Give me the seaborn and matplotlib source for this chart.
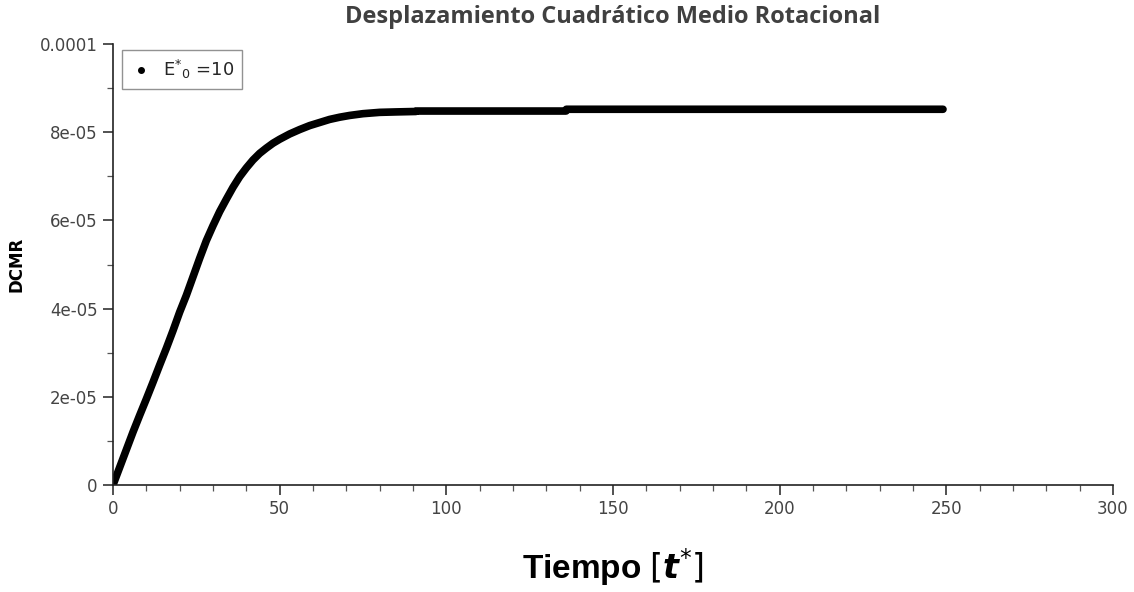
import matplotlib
matplotlib.use("Agg")
import matplotlib.pyplot as plt
from matplotlib.lines import Line2D
from matplotlib.ticker import MultipleLocator
import seaborn as sns
import pandas as pd

# Rotational mean square displacement vs reduced time
tiempo = [0, 2, 4, 6, 8, 10, 12, 14, 16, 18, 20, 22, 24, 26, 28, 30, 32, 34,
          36, 38, 40, 42, 44, 46, 48, 50, 53, 56, 59, 62, 65, 68, 71, 75, 80,
          85, 90.9, 91.0, 135.9, 136.0, 249]
dcmr = [0.0, 0.40e-5, 0.80e-5, 1.20e-5, 1.58e-5, 1.95e-5, 2.33e-5, 2.72e-5,
        3.10e-5, 3.50e-5, 3.92e-5, 4.30e-5, 4.72e-5, 5.14e-5, 5.54e-5,
        5.88e-5, 6.20e-5, 6.48e-5, 6.75e-5, 6.99e-5, 7.19e-5, 7.37e-5,
        7.52e-5, 7.64e-5, 7.75e-5, 7.84e-5, 7.96e-5, 8.06e-5, 8.15e-5,
        8.22e-5, 8.29e-5, 8.34e-5, 8.38e-5, 8.42e-5, 8.45e-5, 8.46e-5,
        8.47e-5, 8.48e-5, 8.48e-5, 8.52e-5, 8.52e-5]
serie = "E$^{*}$$_{0}$ =10"
x_ticks = [0, 50, 100, 150, 200, 250, 300]
y_ticks = [0, 2e-5, 4e-5, 6e-5, 8e-5, 1e-4]
y_labels = ["0", "2e-05", "4e-05", "6e-05", "8e-05", "0.0001"]

df = pd.DataFrame({"t": tiempo, "dcmr": dcmr})

sns.set_style("ticks")
plt.rcParams["font.family"] = ["DejaVu Sans"]

fig = plt.figure(figsize=(11.34, 5.92), dpi=100)
ax = fig.add_axes([113 / 1134, 1 - 485 / 592, 1000 / 1134, 441 / 592])

sns.lineplot(data=df, x="t", y="dcmr", ax=ax, color="black", lw=5.5,
             solid_capstyle="round", solid_joinstyle="round")

ax.set_xlim(0, 300)
ax.set_ylim(0, 1e-4)
ax.set_xticks(x_ticks)
ax.set_xticklabels([str(v) for v in x_ticks])
ax.set_yticks(y_ticks)
ax.set_yticklabels(y_labels)
ax.xaxis.set_minor_locator(MultipleLocator(10))
ax.yaxis.set_minor_locator(MultipleLocator(1e-5))

for side in ("top", "right"):
    ax.spines[side].set_visible(False)
for side in ("left", "bottom"):
    ax.spines[side].set_color("#222222")
    ax.spines[side].set_linewidth(1.2)

ax.tick_params(axis="both", which="major", length=7, width=1.1,
               color="#222222", labelsize=12, labelcolor="#444444", pad=4)
ax.tick_params(axis="both", which="minor", length=4, width=0.9,
               color="#555555")

ax.set_title("Desplazamiento Cuadrático Medio Rotacional",
             fontfamily="Open Sans", fontweight="bold", fontsize=17,
             color="#404040", pad=15)
ax.set_ylabel("DCMR", fontweight="bold", fontsize=12, color="black",
              labelpad=10)
ax.set_xlabel(r"Tiempo $\left[\boldsymbol{t}^{*}\right]$",
              fontfamily="Liberation Sans", fontweight="bold", fontsize=24,
              color="black", labelpad=20)

handle = Line2D([], [], color="black", marker="o", markersize=4,
                linestyle="none")
leg = ax.legend([handle], [serie], loc="upper left",
                bbox_to_anchor=(9 / 1000, 1 - 6 / 441), borderaxespad=0,
                fancybox=False, frameon=True, fontsize=13,
                handletextpad=0.6, borderpad=0.45, handlelength=1.2)
leg.get_frame().set_edgecolor("#777777")
leg.get_frame().set_linewidth(1.0)

fig.savefig("out.png", dpi=100)
